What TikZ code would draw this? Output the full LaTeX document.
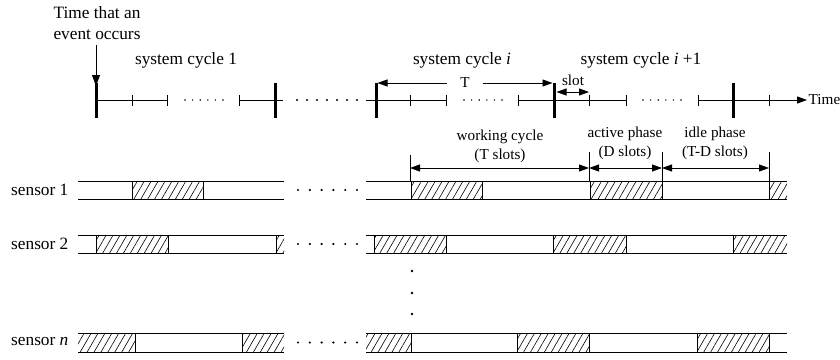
\documentclass[tikz,border=0pt]{standalone}
\usepackage{fontspec}
\setmainfont{Liberation Serif}
\usetikzlibrary{arrows.meta,patterns.meta}
\begin{document}
\begin{tikzpicture}[x=1pt,y=-1pt,
  every node/.style={font=\fontsize{17.3}{21}\selectfont, inner sep=0pt},
  small/.style={font=\fontsize{15.2}{19}\selectfont},
  axis/.style={line width=0.9pt},
  bigbar/.style={line width=3pt},
  tickmark/.style={line width=0.9pt},
  tip/.style={-{Triangle[length=10pt,width=7pt]}},
  dimarrow/.style={line width=0.9pt,{Triangle[length=10pt,width=7pt]}-{Triangle[length=10pt,width=7pt]}},
  guide/.style={line width=0.8pt},
  hatch/.style={pattern={Lines[angle=60,distance=6pt,line width=0.6pt]}},
  rail/.style={line width=1pt},
]
\useasboundingbox (0,0) rectangle (840,359);

% ---------- time axis ----------
\draw[axis] (96,100) -- (167,100);
\draw[axis] (239,100) -- (283,100);
\draw[axis] (366,100) -- (446,100);
\draw[axis] (518,100) -- (626,100);
\draw[axis,tip] (698,100) -- (807,100);
\node[small,anchor=west] (time) at (808.5,100) {Time};

\foreach \x in {132,167,239,410,446,518,589,626,698,769}
  \draw[tickmark] (\x,95) -- (\x,106);
\foreach \x/\n in {96/b1,275/b2,376/b3,554/b4,733/b5} {
  \draw[bigbar] (\x,83) -- (\x,118);
  \coordinate (\n) at (\x,83);
}

% slot dots on the axis
\foreach \s in {185,464,643}
  \foreach \k in {0,...,5}
    \fill (\s+\k*7.6,100) circle (0.8);
% gap between cycles
\foreach \k in {0,...,6}
  \fill (297+\k*10,100) circle (1.2);

% event arrow
\node[align=center] (event) at (97,23.5) {Time that an\\event occurs};
\draw[line width=0.9pt,-{Triangle[length=11pt,width=8pt]}] ([yshift=-5pt]event.south -| b1) -- ([yshift=-3pt]b1);

% cycle titles
\node (sc1) at (186,60) {system cycle 1};
\node (sci) at (462,60) {system cycle \textit{i}};
\node (scj) at (641,60) {system cycle \textit{i} +1};

% period T
\node[small,inner xsep=13pt] (T) at (465,83) {T};
\draw[line width=0.9pt,tip] (T.west) -- ([xshift=1.5pt]b3);
\draw[line width=0.9pt,tip] (T.east) -- ([xshift=-1.5pt]b4);

% one slot
\node[small] (slot) at (573,80) {slot};
\coordinate (s0) at (556.5,92);
\coordinate (s1) at (589,92);
\draw[dimarrow] (s0) -- (s1);

% ---------- phase annotations ----------
\node[small,align=center] (wc) at (500,146) {working cycle\\(T slots)};
\node[small,align=center] (ap) at (625,143.5) {active phase\\(D slots)};
\node[small,align=center] (ip) at (715,143.5) {idle phase\\(T-D slots)};

\draw[guide] (410,155) -- (410,181);
\foreach \x in {589,662,769}
  \draw[guide] (\x,152) -- (\x,181);
\coordinate (w0) at (410,168);
\coordinate (w1) at (589,168);
\coordinate (w2) at (662,168);
\coordinate (w3) at (769,168);
\draw[dimarrow] (w0) -- (w1);
\draw[dimarrow] (w1) -- (w2);
\draw[dimarrow] (w2) -- (w3);

% ---------- sensor schedules ----------
% row: top/bottom rails
\foreach \t/\b in {181/199,235/253,333/352} {
  \draw[rail] (78,\t) -- (284,\t) (78,\b) -- (284,\b);
  \draw[rail] (366,\t) -- (787,\t) (366,\b) -- (787,\b);
  \foreach \k in {0,...,5}
    \fill (298+\k*11.8,{(\t+\b)/2}) circle (1.2);
}

% active slots: x1/x2/top/bottom
\foreach \a/\c/\t/\b in {132/203/181/199,411/482/181/199,590/662/181/199,769/787/181/199,
                         96/168/235/253,276/284/235/253,374/446/235/253,553/626/235/253,733/787/235/253,
                         78/135/333/352,242/284/333/352,366/411/333/352,517/589/333/352,697/769/333/352}
  \path[hatch] (\a,\t) rectangle (\c,\b);

% phase boundaries inside the rails
\foreach \x/\t/\b in {132/181/199,203/181/199,411/181/199,482/181/199,590/181/199,662/181/199,769/181/199,
                      96/235/253,168/235/253,276/235/253,374/235/253,446/235/253,553/235/253,626/235/253,733/235/253,
                      135/333/352,242/333/352,411/333/352,517/333/352,589/333/352,697/333/352,769/333/352}
  \draw[guide] (\x,\t) -- (\x,\b);

\node[anchor=west] (sen1) at (11,190) {sensor 1};
\node[anchor=west] (sen2) at (11,244) {sensor 2};
\node[anchor=west] (senn) at (11,342) {sensor \textit{n}};

% further sensors
\foreach \y in {271,293,314}
  \fill (412,\y) circle (1.3);

\end{tikzpicture}
\end{document}
